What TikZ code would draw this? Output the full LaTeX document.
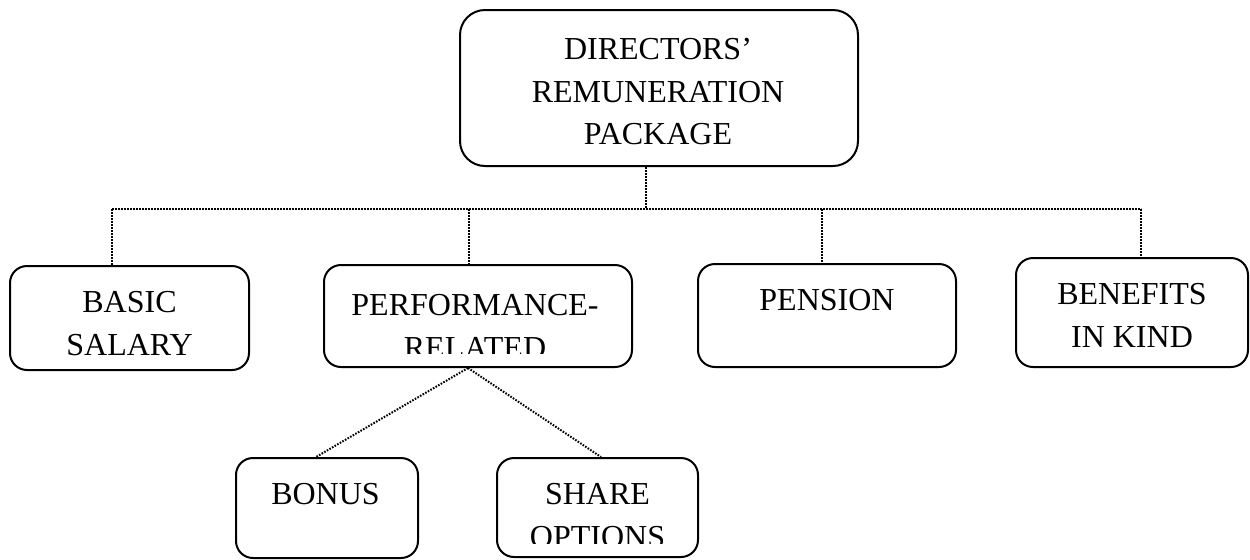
\documentclass[tikz,border=0pt]{standalone}
\usepackage{fontspec}
\setmainfont{Liberation Serif}
\usetikzlibrary{calc}
\begin{document}
\begin{tikzpicture}[x=0.5pt,y=-0.5pt,
  box/.style={draw,rectangle,rounded corners=8.5pt,line width=1pt,inner sep=0pt},
  txt/.style={anchor=base,inner sep=0pt,font=\fontsize{16}{21.5}\selectfont},
  conn/.style={line width=1pt,dash pattern=on 0.8pt off 0.7pt}]
\useasboundingbox (0,0) rectangle (1250,559);

% boxes
\node[box,rounded corners=12.5pt,minimum width=199pt,minimum height=78pt] (top) at (659,88) {};
\node[box,minimum width=119.5pt,minimum height=52pt] (basic) at (129.5,318) {};
\node[box,minimum width=154pt,minimum height=51pt] (perf) at (478,316) {};
\node[box,minimum width=129pt,minimum height=51.5pt] (pension) at (827,315.5) {};
\node[box,minimum width=116pt,minimum height=54.5pt] (benefits) at (1132,312.5) {};
\node[box,minimum width=91pt,minimum height=50pt] (bonus) at (327,508) {};
\node[box,minimum width=100.5pt,minimum height=49.5pt] (share) at (597.5,507.5) {};

% labels
\node[txt] (t1) at (658,59) {DIRECTORS’};
\node[txt] (t2) at (658,102) {REMUNERATION};
\node[txt] (t3) at (658,144) {PACKAGE};
\node[txt] (b1) at (129.5,312) {BASIC};
\node[txt] (b2) at (129.5,355) {SALARY};
\begin{scope}
  \clip (324,265) rectangle (632,353);
  \node[txt] (p1) at (475,315) {PERFORMANCE-};
  \node[txt] (p2) at (475,358) {RELATED};
\end{scope}
\node[txt] (n1) at (827,310) {PENSION};
\node[txt] (k1) at (1132,304) {BENEFITS};
\node[txt] (k2) at (1132,347) {IN KIND};
\node[txt] (o1) at (325.5,504) {BONUS};
\begin{scope}
  \clip (497,458) rectangle (698,543);
  \node[txt] (s1) at (597.5,504) {SHARE};
  \node[txt] (s2) at (597.5,547) {OPTIONS};
\end{scope}

% junction points on the distribution line
\coordinate (hub) at (646,209);
\coordinate (jb) at (112,209);
\coordinate (jp) at (469,209);
\coordinate (jn) at (822,209);
\coordinate (jk) at (1141,209);

% connectors
\draw[conn] (top.south -| hub) -- (hub);
\draw[conn] (jb) -- (jk);
\draw[conn] (jb) -- (jb |- basic.north);
\draw[conn] (jp) -- (jp |- perf.north);
\draw[conn] (jn) -- (jn |- pension.north);
\draw[conn] (jk) -- (jk |- benefits.north);
\draw[conn] ($(perf.south)+(-10,0)$) -- ($(bonus.north)+(-11,0)$);
\draw[conn] ($(perf.south)+(-10,0)$) -- ($(share.north)+(3.5,0)$);
\end{tikzpicture}
\end{document}
